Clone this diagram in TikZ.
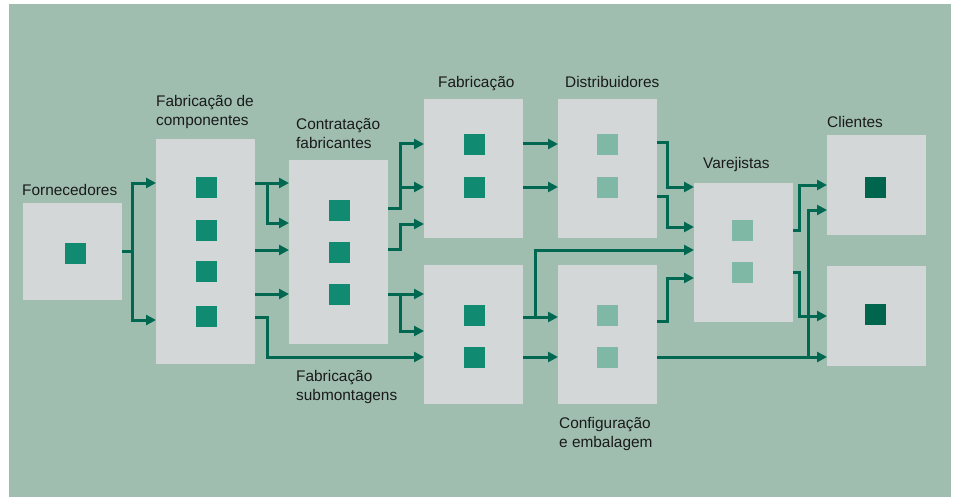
\documentclass[tikz,border=0pt]{standalone}
\usepackage{fontspec}
\setmainfont{Liberation Sans}
\usetikzlibrary{arrows.meta}
\definecolor{bggreen}{HTML}{9FBEB0}
\definecolor{boxgray}{HTML}{D3D7D8}
\definecolor{sqgreen}{HTML}{108A70}
\definecolor{sqpale}{HTML}{7FB9A5}
\definecolor{sqdeep}{HTML}{00654D}
\definecolor{flowgreen}{HTML}{006850}
\definecolor{labelgray}{HTML}{1A1A1A}
\tikzset{
  box/.style={fill=boxgray, anchor=north west, inner sep=0pt, minimum width=99pt},
  darksq/.style={fill=sqgreen, minimum size=21pt, inner sep=0pt},
  palesq/.style={fill=sqpale, minimum size=21pt, inner sep=0pt},
  deepsq/.style={fill=sqdeep, minimum size=21pt, inner sep=0pt},
  flow/.style={draw=flowgreen, line width=3pt, -{Triangle[length=10pt,width=10pt]}},
  lbl/.style={anchor=base west, inner sep=0pt, align=left, text=labelgray,
    font=\fontsize{15.4}{19}\selectfont},
}

\begin{document}
\begin{tikzpicture}[x=1pt, y=-1pt]
\useasboundingbox (0,0) rectangle (957,497);
\fill[bggreen] (9,4) rectangle (951,497);

% boxes
\node[box, minimum height=97pt]  (forn)   at (23,203) {};
\node[box, minimum height=225pt] (fabcomp) at (156,139) {};
\node[box, minimum height=184pt] (contr)  at (289,160) {};
\node[box, minimum height=139pt] (fabtop) at (424,99) {};
\node[box, minimum height=139pt] (fabsub) at (424,265) {};
\node[box, minimum height=139pt] (distr)  at (558,99) {};
\node[box, minimum height=139pt] (config) at (558,265) {};
\node[box, minimum height=139pt] (varej)  at (694,183) {};
\node[box, minimum height=100pt] (clitop) at (827,135) {};
\node[box, minimum height=100pt] (clibot) at (827,266) {};

% squares
\node[darksq] (f1) at (75.5,253) {};
\foreach \y [count=\i] in {187,230,271,316}
  \node[darksq] (c\i) at (206.5,\y) {};
\foreach \y [count=\i] in {210,252,294}
  \node[darksq] (k\i) at (339.5,\y) {};
\foreach \y [count=\i] in {145,187,315,357}
  \node[darksq] (m\i) at (474.5,\y) {};
\foreach \y [count=\i] in {145,187,315,357}
  \node[palesq] (d\i) at (607.5,\y) {};
\foreach \y [count=\i] in {230,272}
  \node[palesq] (v\i) at (742.5,\y) {};
\node[deepsq] (q1) at (875.5,187) {};
\node[deepsq] (q2) at (875.5,314) {};

% labels (base = last line)
\node[lbl] (tforn)   at (22,195)  {Fornecedores};
\node[lbl] (tfabcomp) at (156,126) {Fabricação de\\componentes};
\node[lbl] (tcontr)  at (296,149) {Contratação\\fabricantes};
\node[lbl] (tfabtop) at (438,88)  {Fabricação};
\node[lbl] (tdistr)  at (565,88)  {Distribuidores};
\node[lbl] (tvarej)  at (703,168) {Varejistas};
\node[lbl] (tcli)    at (827,128) {Clientes};
\node[lbl] (tfabsub) at (296,400) {Fabricação\\submontagens};
\node[lbl] (tconfig) at (559,447) {Configuração\\e embalagem};

% connectors
\draw[flow] (forn.east |- 0,251) -- (132,251) |- (fabcomp.west |- 0,183);
\draw[flow] (132,251) |- (fabcomp.west |- 0,320);

\draw[flow] (fabcomp.east |- 0,183) -- (contr.west |- 0,183);
\draw[flow] (267,183) |- (contr.west |- 0,223);
\draw[flow] (fabcomp.east |- 0,250) -- (contr.west |- 0,250);
\draw[flow] (fabcomp.east |- 0,294) -- (contr.west |- 0,294);
\draw[flow] (fabcomp.east |- 0,317) -| (267,357) -- (fabsub.west |- 0,357);

\draw[flow] (contr.east |- 0,208) -| (400,144) -- (fabtop.west |- 0,144);
\draw[flow] (400,187) -- (fabtop.west |- 0,187);
\draw[flow] (contr.east |- 0,249) -| (400,224) -- (fabtop.west |- 0,224);
\draw[flow] (contr.east |- 0,294) -- (fabsub.west |- 0,294);
\draw[flow] (400,294) |- (fabsub.west |- 0,331);

\draw[flow] (fabtop.east |- 0,144) -- (distr.west |- 0,144);
\draw[flow] (fabtop.east |- 0,187) -- (distr.west |- 0,187);
\draw[flow] (fabsub.east |- 0,317) -- (config.west |- 0,317);
\draw[flow] (535,317) |- (varej.west |- 0,250);
\draw[flow] (fabsub.east |- 0,357) -- (config.west |- 0,357);

\draw[flow] (distr.east |- 0,143) -| (667,187) -- (varej.west |- 0,187);
\draw[flow] (distr.east |- 0,196) -| (667,227) -- (varej.west |- 0,227);
\draw[flow] (config.east |- 0,321) -| (667,278) -- (varej.west |- 0,278);
\draw[flow] (config.east |- 0,357) -- (clibot.west |- 0,357);

\draw[flow] (varej.east |- 0,230) -| (799,185) -- (clitop.west |- 0,185);
\draw[flow] (varej.east |- 0,272) -| (799,316) -- (clibot.west |- 0,316);
\draw[flow] (808,357) |- (clitop.west |- 0,210);
\end{tikzpicture}
\end{document}
